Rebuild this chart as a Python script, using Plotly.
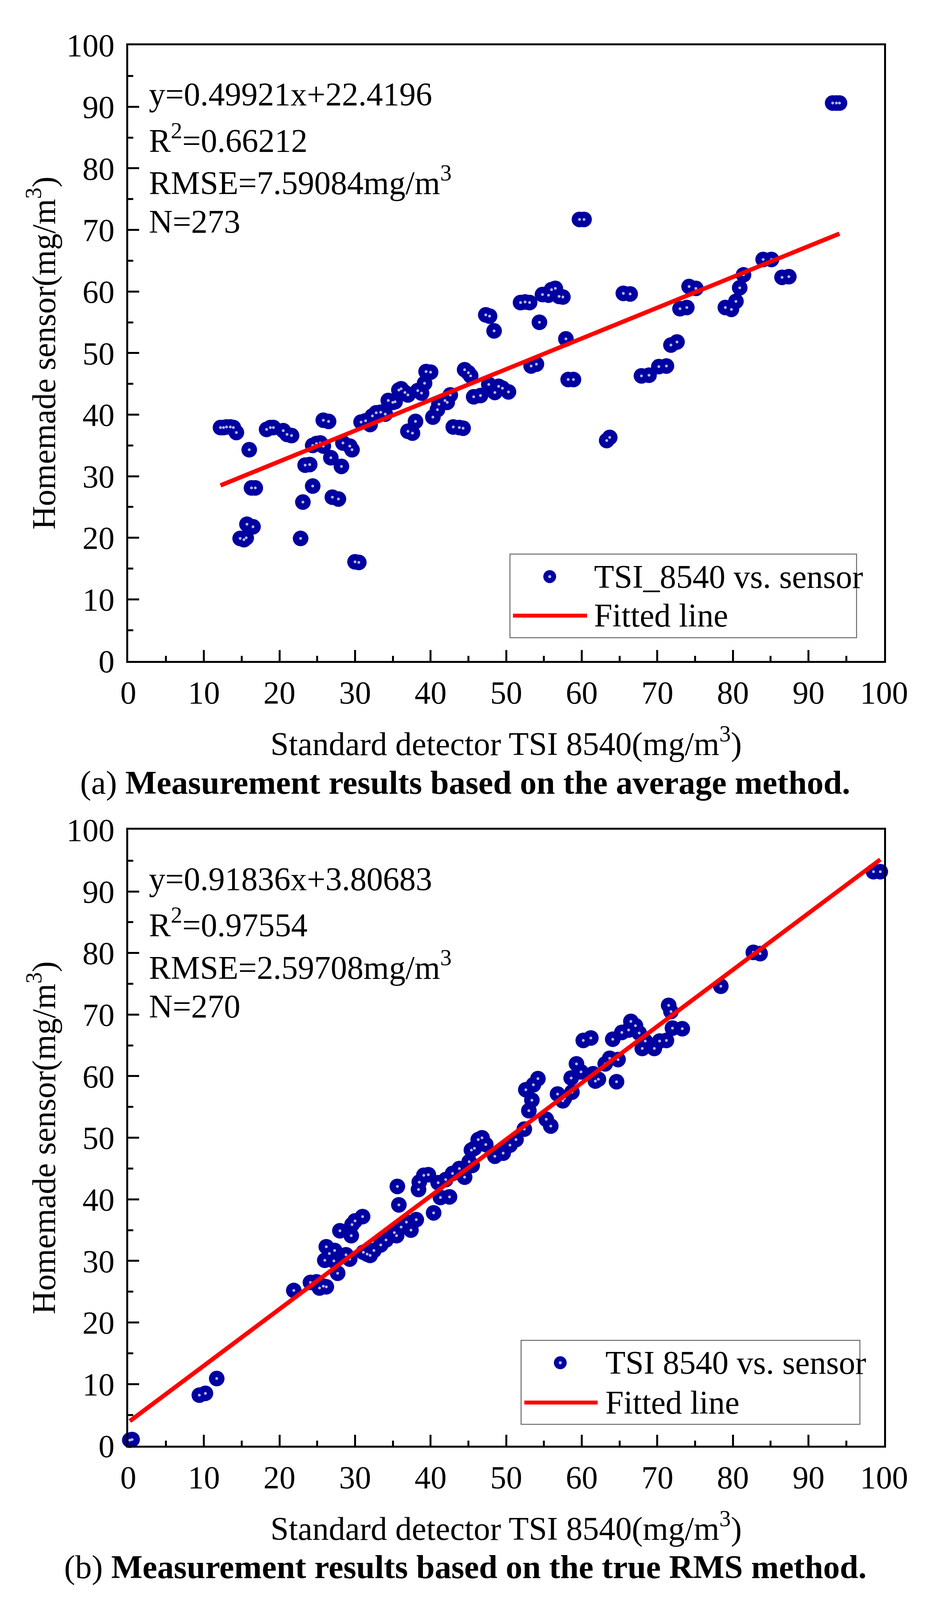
import plotly.graph_objects as go

# ---- panel (a): average method (TSI 8540 vs homemade sensor, mg/m3) ----
avg_x = [12.2, 12.6, 13.0, 13.5, 13.9, 14.3, 16.0, 18.3, 18.8, 19.2, 20.5, 21.0, 21.6,
         25.8, 26.5, 24.4, 24.9, 25.4, 25.8, 28.4, 29.3, 29.6, 26.8, 28.2, 23.4, 24.0,
         16.3, 16.8, 24.4, 23.1, 27.0, 27.8, 15.7, 16.5, 14.8, 15.3, 15.6, 22.8, 30.0, 30.5,
         30.8, 31.4, 32.0, 32.3, 32.8, 33.4, 34.0, 34.4, 35.0, 35.3, 35.8, 36.1, 36.6, 37.0,
         38.3, 38.8, 39.2, 39.4, 40.0, 38.0, 37.0, 37.6, 40.3, 40.9, 41.1, 41.9, 42.6, 42.2,
         43.0, 43.8, 44.3, 44.5, 45.0, 45.3, 45.7, 46.6, 47.7, 48.5, 49.0, 49.5, 50.3,
         47.3, 47.8, 48.4, 59.7, 60.3, 51.9, 52.5, 53.1, 54.8, 55.6, 56.0, 56.5, 57.5, 57.0,
         65.5, 66.4, 54.4, 57.9, 53.3, 54.0, 58.2, 58.9, 63.3, 63.7, 67.9, 68.9, 70.2, 71.2,
         71.8, 72.6, 73.0, 73.9, 74.2, 75.1, 79.0, 79.8, 80.4, 80.9, 81.4, 84.0, 85.1,
         86.5, 87.4, 93.2, 93.7, 94.1]
avg_y = [37.9, 37.9, 38.0, 38.0, 37.9, 37.1, 34.3, 37.6, 37.9, 37.9, 37.4, 36.8, 36.6,
         39.1, 38.9, 35.0, 35.3, 35.4, 34.9, 35.4, 34.9, 34.3, 33.0, 31.6, 31.8, 31.9,
         28.1, 28.1, 28.4, 25.8, 26.6, 26.3, 22.2, 21.8, 19.9, 19.7, 20.0, 19.9, 16.1, 16.0,
         38.8, 39.0, 38.4, 39.8, 40.3, 40.4, 40.1, 42.3, 42.0, 42.1, 44.0, 44.2, 43.6, 43.2,
         43.9, 43.5, 45.1, 47.0, 46.9, 38.9, 37.3, 37.0, 39.6, 40.8, 41.7, 42.3, 43.2, 42.0,
         38.0, 37.9, 37.8, 47.3, 46.8, 46.3, 42.9, 43.1, 44.9, 43.6, 44.6, 44.3, 43.7,
         56.2, 56.0, 53.6, 71.7, 71.7, 58.2, 58.3, 58.2, 59.5, 59.4, 60.3, 60.5, 59.1, 59.2,
         59.7, 59.6, 55.0, 52.3, 47.9, 48.2, 45.7, 45.7, 35.8, 36.3, 46.3, 46.4, 47.8, 47.9,
         51.3, 51.8, 57.2, 57.4, 60.8, 60.5, 57.4, 57.1, 58.4, 60.6, 62.7, 65.2, 65.2,
         62.3, 62.4, 90.6, 90.6, 90.6]

# ---- panel (b): true RMS method ----
rms_x = [0.2, 0.5, 9.4, 10.2, 11.7, 21.9, 24.1, 24.9, 25.3, 25.8, 26.2, 27.7,
         26.0, 26.2, 26.6, 27.2, 27.3, 28.8, 29.3, 28.0, 29.5, 29.6, 30.0, 31.0,
         31.1, 31.6, 32.0, 32.5, 33.4, 34.1, 35.2, 35.5, 36.1, 36.8, 37.4, 38.1,
         35.8, 35.6, 40.4, 38.4, 38.5, 39.1, 39.7, 41.0, 42.0, 41.3, 42.5,
         42.9, 43.8, 44.5, 45.1, 45.5, 45.4, 45.8, 46.3, 46.8, 47.3,
         48.5, 49.6, 50.5, 51.3, 52.4, 53.0, 53.4, 52.6, 53.6, 54.2, 55.3, 55.9,
         56.8, 57.5, 57.7, 58.7, 58.6, 59.3, 59.9, 61.5, 61.8, 62.2, 63.1, 63.7, 64.8,
         64.6, 60.2, 61.2, 64.1, 65.3, 66.2, 66.5, 67.1, 67.6,
         68.0, 68.4, 69.6, 70.3, 71.2, 71.5, 71.8, 72.0, 73.3,
         78.4, 82.7, 83.6, 98.6, 99.5]
rms_y = [0.9, 1.0, 8.2, 8.5, 10.9, 25.2, 26.5, 26.6, 25.6, 25.9, 25.8, 28.0,
         30.1, 32.3, 31.2, 30.0, 31.7, 31.0, 30.3, 34.9, 34.1, 35.9, 36.5, 37.2,
         31.4, 31.1, 30.9, 31.7, 32.6, 33.4, 34.6, 34.1, 35.5, 36.3, 35.0, 36.7,
         39.1, 42.1, 37.8, 41.6, 42.8, 43.9, 44.0, 42.7, 43.2, 40.3, 40.4,
         44.2, 45.0, 43.6, 46.1, 45.5, 48.0, 48.3, 49.7, 50.0, 48.9,
         47.0, 47.5, 48.8, 49.7, 51.4, 54.4, 56.1, 57.8, 58.6, 59.6, 53.0, 51.9,
         57.1, 56.0, 56.4, 57.4, 59.7, 62.0, 60.7, 60.4, 59.2, 59.5, 62.0, 62.9, 62.7,
         59.1, 65.8, 66.2, 66.0, 67.1, 67.5, 68.9, 68.2, 67.0,
         64.5, 65.7, 64.5, 65.7, 65.8, 71.5, 70.5, 67.8, 67.7,
         74.6, 80.1, 79.9, 93.2, 93.2]

# linear fits as reported on the chart
fit_a = (0.49921, 22.4196)
fit_b = (0.91836, 3.80683)

stats_a = ["y=0.49921x+22.4196", "R<sup>2</sup>=0.66212",
           "RMSE=7.59084mg/m<sup>3</sup>", "N=273"]
stats_b = ["y=0.91836x+3.80683", "R<sup>2</sup>=0.97554",
           "RMSE=2.59708mg/m<sup>3</sup>", "N=270"]
legend_a = ["TSI_8540 vs. sensor", "Fitted line"]
legend_b = ["TSI 8540 vs. sensor", "Fitted line"]
captions = ["(a) <b>Measurement results based on the average method.</b>",
            "(b) <b>Measurement results based on the true RMS method.</b>"]

FONT = "Liberation Serif"
NAVY = "#0000A0"
SHINE = "rgba(215,215,255,0.85)"
W, H = 2400, 4135
# plot area in pixels
PX0, PX1 = 310, 2313
PANELS = [(65, 1677), (2119, 3731)]


def paper_y(py):
    return 1 - py / H


fig = go.Figure()

axis_style = dict(
    range=[0, 100], dtick=10, tick0=0, showgrid=False, zeroline=False,
    showline=True, linecolor="black", linewidth=5, mirror=True,
    ticks="inside", ticklen=28, tickwidth=5, tickcolor="black",
    minor=dict(ticks="inside", ticklen=13, tickwidth=5, dtick=5, tickcolor="black"),
    tickfont=dict(family=FONT, size=82, color="black"),
)

datasets = [(avg_x, avg_y, fit_a, stats_a, legend_a),
            (rms_x, rms_y, fit_b, stats_b, legend_b)]
legend_geo = [
    # box x0, x1, y0, y1, marker x, line x0, x1, text x, row1 y, row2 y (axis-domain fractions)
    dict(box=(0.505, 0.9636, 0.0378, 0.1735), mx=0.5576, lx=(0.509, 0.607), tx=0.6155, r1=0.137, r2=0.0737),
    dict(box=(0.5197, 0.968, 0.0347, 0.171), mx=0.5716, lx=(0.524, 0.621), tx=0.630, r1=0.1346, r2=0.070),
]

for i, (xs, ys, (slope, icpt), stats, leg) in enumerate(datasets):
    n = i + 1
    xa = "x" if n == 1 else f"x{n}"
    ya = "y" if n == 1 else f"y{n}"
    top, bot = PANELS[i]

    fig.add_trace(go.Scatter(x=xs, y=ys, mode="markers", xaxis=xa, yaxis=ya,
                             marker=dict(size=40, color=NAVY, line=dict(width=0)),
                             cliponaxis=False, showlegend=False, name=leg[0]))
    fig.add_trace(go.Scatter(x=xs, y=ys, mode="markers", xaxis=xa, yaxis=ya,
                             marker=dict(size=7, color=SHINE, line=dict(width=0)),
                             cliponaxis=False, showlegend=False, hoverinfo="skip"))
    lx = [min(xs), max(xs)]
    fig.add_trace(go.Scatter(x=lx, y=[slope * v + icpt for v in lx], mode="lines",
                             xaxis=xa, yaxis=ya, line=dict(color="red", width=11),
                             showlegend=False, name=leg[1]))

    fig.update_layout({
        ("xaxis" if n == 1 else f"xaxis{n}"): dict(axis_style, domain=[PX0 / W, PX1 / W],
                                                    anchor=ya, ticklabelstandoff=6),
        ("yaxis" if n == 1 else f"yaxis{n}"): dict(axis_style, domain=[paper_y(bot), paper_y(top)],
                                                    anchor=xa, ticklabelstandoff=14),
    })

    # regression statistics
    for j, txt in enumerate(stats):
        off = [129, 244, 355, 462][j]
        fig.add_annotation(text=txt, xref=f"{xa} domain", yref=f"{ya} domain",
                           x=0.026, y=1 - off / (bot - top), xanchor="left", yanchor="middle",
                           showarrow=False, font=dict(family=FONT, size=84, color="black"))

    # legend drawn as a framed box
    g = legend_geo[i]
    bx0, bx1, by0, by1 = g["box"]
    fig.add_shape(type="rect", xref=f"{xa} domain", yref=f"{ya} domain",
                  x0=bx0, x1=bx1, y0=by0, y1=by1,
                  line=dict(color="#6a6a6a", width=2.5), fillcolor="white")
    rx, ry = 17 / (PX1 - PX0), 17 / (bot - top)
    fig.add_shape(type="circle", xref=f"{xa} domain", yref=f"{ya} domain",
                  x0=g["mx"] - rx, x1=g["mx"] + rx, y0=g["r1"] - ry, y1=g["r1"] + ry,
                  fillcolor=NAVY, line=dict(width=0))
    hx, hy = 4 / (PX1 - PX0), 4 / (bot - top)
    fig.add_shape(type="circle", xref=f"{xa} domain", yref=f"{ya} domain",
                  x0=g["mx"] - hx, x1=g["mx"] + hx, y0=g["r1"] - hy, y1=g["r1"] + hy,
                  fillcolor=SHINE, line=dict(width=0))
    fig.add_shape(type="line", xref=f"{xa} domain", yref=f"{ya} domain",
                  x0=g["lx"][0], x1=g["lx"][1], y0=g["r2"], y1=g["r2"],
                  line=dict(color="red", width=10))
    for txt, ry_ in zip(leg, (g["r1"], g["r2"])):
        fig.add_annotation(text=txt, xref=f"{xa} domain", yref=f"{ya} domain",
                           x=g["tx"], y=ry_, xanchor="left", yanchor="middle",
                           showarrow=False, font=dict(family=FONT, size=84, color="black"))

    # axis titles
    fig.add_annotation(text="Standard detector TSI 8540(mg/m<sup>3</sup>)",
                       xref=f"{xa} domain", yref="paper", x=0.5, y=paper_y(bot + 212),
                       xanchor="center", yanchor="middle", showarrow=False,
                       font=dict(family=FONT, size=84, color="black"))
    fig.add_annotation(text="Homemade sensor(mg/m<sup>3</sup>)", textangle=-90,
                       xref="paper", yref="paper", x=80 / W, y=paper_y((top + bot) / 2),
                       xanchor="center", yanchor="middle", showarrow=False,
                       font=dict(family=FONT, size=84, color="black"))
    # caption
    fig.add_annotation(text=captions[i], xref="paper", yref="paper",
                       x=1203 / W, y=paper_y(bot + 318), xanchor="center", yanchor="middle",
                       showarrow=False, font=dict(family=FONT, size=85, color="black"))

fig.update_layout(width=W, height=H, autosize=False,
                  margin=dict(l=0, r=0, t=0, b=0),
                  paper_bgcolor="white", plot_bgcolor="white",
                  showlegend=False)

fig.write_html("out.html")
